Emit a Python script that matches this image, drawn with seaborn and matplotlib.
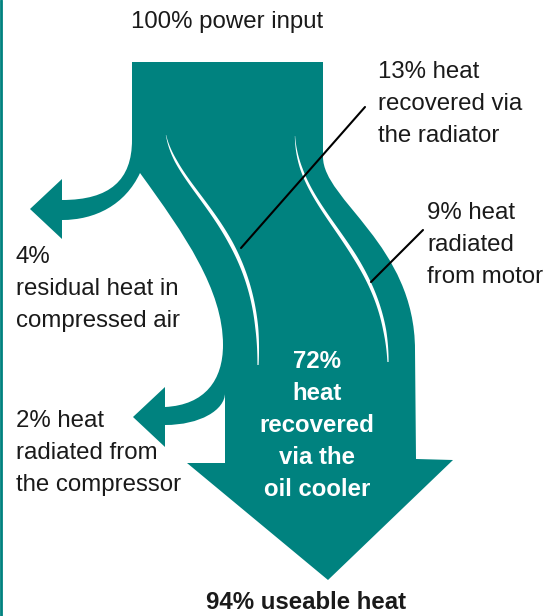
import numpy as np
import matplotlib
matplotlib.use("Agg")
import matplotlib.pyplot as plt
from matplotlib.path import Path
from matplotlib.patches import PathPatch, Polygon
import seaborn as sns

# energy split of the compressor (percent of power input)
pct_input = 100
pct_radiator = 13
pct_motor = 9
pct_air = 4
pct_compressor = 2
pct_oil = 72
pct_useable = pct_radiator + pct_motor + pct_oil

title_top = f"{pct_input}% power input"
text_radiator = [f"{pct_radiator}% heat", "recovered via", "the radiator"]
text_motor = [f"{pct_motor}% heat", "radiated", "from motor"]
text_air = [f"{pct_air}%", "residual heat in", "compressed air"]
text_compressor = [f"{pct_compressor}% heat", "radiated from", "the compressor"]
text_oil = [f"{pct_oil}%", "heat", "recovered", "via the", "oil cooler"]
title_bottom = f"{pct_useable}% useable heat"

TEAL = "#00827f"
INK = "#1a1a1a"

sns.set_theme(style="white")
plt.rcParams["font.family"] = ["Liberation Sans", "DejaVu Sans"]

fig = plt.figure(figsize=(5.55, 6.16), dpi=100)
ax = fig.add_axes([0, 0, 1, 1])
ax.set_xlim(0, 555)
ax.set_ylim(616, 0)
ax.axis("off")

# outline of the flow diagram (pixel layout)
M, L, C = Path.MOVETO, Path.LINETO, Path.CURVE4
verts = [
    ((132, 62), M), ((323, 62), L), ((323, 157), L),
    ((323, 200), C), ((415, 245), C), ((415, 350), C),
    ((416, 459), L), ((453, 460), L), ((328, 580), L), ((187, 463), L),
    ((225, 463), L), ((225, 393), L),
    ((225, 410), C), ((200, 425), C), ((165, 425), C),
    ((165, 447), L), ((133, 417), L), ((165, 387), L), ((165, 407), L),
    ((205, 405), C), ((223, 380), C), ((223, 345), C),
    ((223, 290), C), ((185, 235), C), ((140, 173), C),
    ((125, 205), C), ((95, 220), C), ((62, 220), C),
    ((62, 239), L), ((30, 209), L), ((62, 179), L), ((62, 200), L),
    ((110, 200), C), ((132, 180), C), ((132, 140), C),
    ((132, 62), L),
]
path = Path([v for v, _ in verts] + [(132, 62)], [c for _, c in verts] + [Path.CLOSEPOLY])
ax.add_patch(PathPatch(path, facecolor=TEAL, edgecolor="none"))


def bezier(p0, p1, p2, p3, n=120):
    t = np.linspace(0, 1, n)[:, None]
    p0, p1, p2, p3 = map(np.asarray, (p0, p1, p2, p3))
    pts = (1 - t) ** 3 * p0 + 3 * (1 - t) ** 2 * t * p1 + 3 * (1 - t) * t ** 2 * p2 + t ** 3 * p3
    return pts, t[:, 0]


def white_seam(ctrl):
    pts, t = bezier(*ctrl)
    d = np.gradient(pts, axis=0)
    d /= np.linalg.norm(d, axis=1)[:, None]
    nrm = np.column_stack([-d[:, 1], d[:, 0]])
    w = np.interp(t, [0, 0.15, 0.6, 0.9, 1], [0.3, 2.4, 4.0, 3.0, 1.2]) / 2
    poly = np.vstack([pts + nrm * w[:, None], (pts - nrm * w[:, None])[::-1]])
    ax.add_patch(Polygon(poly, closed=True, facecolor="white", edgecolor="none"))


white_seam([(166, 135), (178, 195), (262, 230), (258, 365)])
white_seam([(295, 136), (298, 215), (385, 250), (388, 362)])

# leader lines
ax.plot([365, 241], [107, 248], color="black", lw=1.5)
ax.plot([423, 371], [230, 282], color="black", lw=1.5)

# thin teal frame line on the left
ax.plot([1, 1], [0, 616], color=TEAL, lw=2)

FS = 17.3
STEP = 32


def block(lines, x, y0, ha="left", **kw):
    for i, s in enumerate(lines):
        ax.text(x, y0 + i * STEP, s, ha=ha, va="baseline", fontsize=FS, **kw)


ax.text(227, 28, title_top, ha="center", va="baseline", fontsize=FS, color=INK)
block(text_radiator, 378, 78, color=INK)
block(text_motor, 427, 219, color=INK)
block(text_air, 16, 263, color=INK)
block(text_compressor, 16, 427, color=INK)
block(text_oil, 317, 368, ha="center", color="white", fontweight="bold")
ax.text(306, 609, title_bottom, ha="center", va="baseline", fontsize=FS,
        fontweight="bold", color=INK)

fig.savefig("out.png", dpi=100)
